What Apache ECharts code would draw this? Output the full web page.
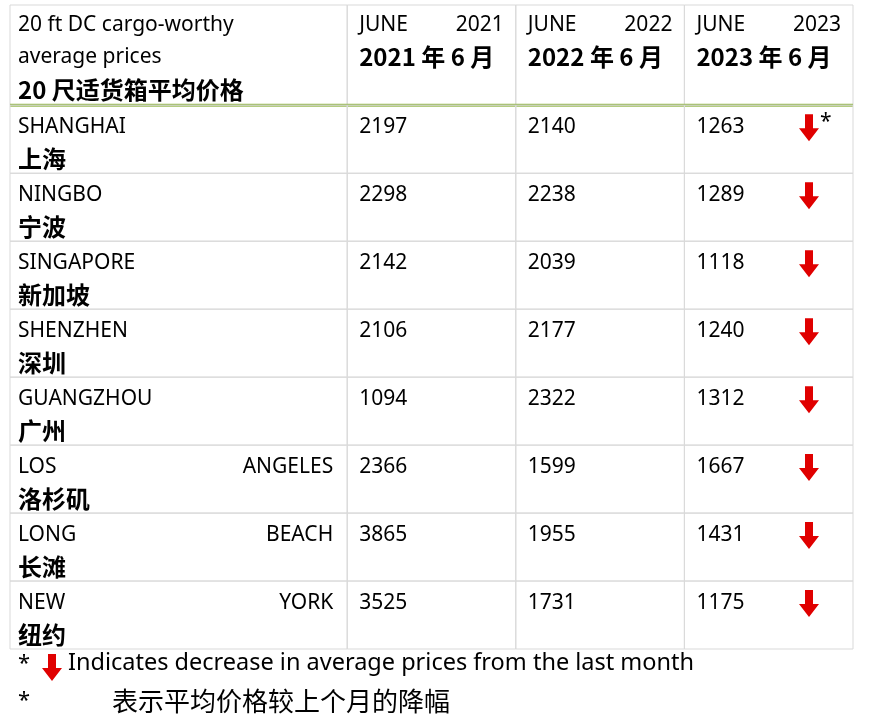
<!DOCTYPE html>
<html><head><meta charset="utf-8">
<script src="https://cdn.jsdelivr.net/npm/echarts@6/dist/echarts.min.js"></script>
<style>html,body{margin:0;background:#fff}#c{width:874px;height:728px}</style>
</head><body><div id="c"></div>
<script>
const headerLines = ['20 ft DC cargo-worthy', 'average prices', '20 尺适货箱平均价格'];
const years = ['2021', '2022', '2023'];
const yearsZh = ['2021 年 6 月', '2022 年 6 月', '2023 年 6 月'];
const portsEn = [['SHANGHAI'], ['NINGBO'], ['SINGAPORE'], ['SHENZHEN'], ['GUANGZHOU'], ['LOS', 'ANGELES'], ['LONG', 'BEACH'], ['NEW', 'YORK']];
const portsZh = ['上海', '宁波', '新加坡', '深圳', '广州', '洛杉矶', '长滩', '纽约'];
const p2021 = [2197, 2298, 2142, 2106, 1094, 2366, 3865, 3525];
const p2022 = [2140, 2238, 2039, 2177, 2322, 1599, 1955, 1731];
const p2023 = [1263, 1289, 1118, 1240, 1312, 1667, 1431, 1175];
const starred = [true, false, false, false, false, false, false, false];

const colEdges = [0, 2, 3, 4, 5];
const HEAD = 1.475;
const FONT = '"Noto Sans","Noto Sans CJK SC",sans-serif';
const ZH = 'bold 24px "Noto Sans CJK SC",sans-serif';
const txt = (x, y, s, align, extra) => ({type: 'text', style: Object.assign({x, y, text: s, fill: '#000', font: '21px ' + FONT, align: align || 'left', verticalAlign: 'middle'}, extra || {})});
function arrow(cx, top) {
  return {type: 'polygon', shape: {points: [[cx - 4, top], [cx + 4, top], [cx + 4, top + 14], [cx + 10, top + 14], [cx, top + 27], [cx - 10, top + 14], [cx - 4, top + 14]]}, style: {fill: '#e00000'}};
}
function renderItem(params, api) {
  const r = api.value(0);
  const t = r < 0 ? 0 : HEAD + r, b = r < 0 ? HEAD : HEAD + r + 1;
  const y0 = api.coord([0, t])[1], y1 = api.coord([0, b])[1];
  const xs = colEdges.map(v => api.coord([v, 0])[0]);
  const ch = [];
  for (let c = 0; c < 4; c++) ch.push({type: 'rect', shape: {x: xs[c], y: y0, width: xs[c + 1] - xs[c], height: y1 - y0}, style: {fill: 'none', stroke: '#d9d9d9', lineWidth: 1}});
  const pad = 8;
  if (r < 0) {
    ch.push(txt(xs[0] + pad, y0 + 20, headerLines[0]));
    ch.push(txt(xs[0] + pad, y0 + 52, headerLines[1]));
    ch.push(txt(xs[0] + pad, y0 + 85, headerLines[2], 'left', {font: ZH}));
    for (let c = 0; c < 3; c++) {
      ch.push(txt(xs[c + 1] + 12, y0 + 20, 'JUNE'));
      ch.push(txt(xs[c + 2] - 12, y0 + 20, years[c], 'right'));
      ch.push(txt(xs[c + 1] + 12, y0 + 52, yearsZh[c], 'left', {font: ZH}));
    }
    ch.push({type: 'line', shape: {x1: xs[0], y1: y1, x2: xs[4], y2: y1}, style: {stroke: '#9bbb59', lineWidth: 3}});
  } else {
    const en = portsEn[r];
    ch.push(txt(xs[0] + pad, y0 + 22, en[0]));
    if (en.length > 1) ch.push(txt(xs[1] - 14, y0 + 22, en[1], 'right'));
    ch.push(txt(xs[0] + pad, y0 + 54, portsZh[r], 'left', {font: ZH}));
    const vals = [p2021[r], p2022[r], p2023[r]];
    for (let c = 0; c < 3; c++) ch.push(txt(xs[c + 1] + 12, y0 + 22, String(vals[c])));
    ch.push(arrow(xs[4] - 44, y0 + 9));
    if (starred[r]) ch.push(txt(xs[4] - 33, y0 + 17, '*'));
  }
  return {type: 'group', children: ch};
}
const rows = [-1].concat(portsZh.map((_, i) => i));
const chart = echarts.init(document.getElementById('c'));
chart.setOption({
  animation: false,
  grid: {left: 10, right: 21, top: 5, bottom: 79},
  xAxis: {type: 'value', min: 0, max: 5, show: false},
  yAxis: {type: 'value', min: 0, max: HEAD + 8, inverse: true, show: false},
  series: [{type: 'custom', renderItem, data: rows.map(r => [r]), clip: false}],
  graphic: [
    {type: 'text', left: 18, top: 653, style: {text: '*', fill: '#000', font: '22px ' + FONT}},
    {type: 'polygon', shape: {points: [[48, 654], [56, 654], [56, 668], [62, 668], [52, 681], [42, 668], [48, 668]]}, style: {fill: '#e00000'}},
    {type: 'text', left: 68, top: 652, style: {text: 'Indicates decrease in average prices from the last month', fill: '#000', font: '23.5px ' + FONT}},
    {type: 'text', left: 18, top: 690, style: {text: '*', fill: '#000', font: '22px ' + FONT}},
    {type: 'text', left: 112, top: 688, style: {text: '表示平均价格较上个月的降幅', fill: '#000', font: '26px "Noto Sans CJK SC",sans-serif'}}
  ]
});
</script></body></html>
